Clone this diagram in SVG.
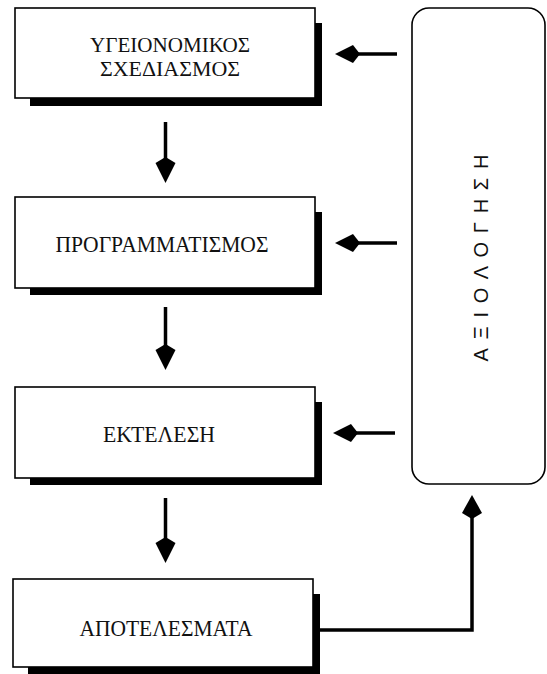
<svg xmlns="http://www.w3.org/2000/svg" width="547" height="674" viewBox="0 0 547 674">
  <defs>
    <style>
      .box { fill: #fff; stroke: #000; stroke-width: 1.6; }
      .shadow { fill: #000; }
      .lbl { font-family: "Liberation Serif", "Times New Roman", serif; font-size: 24px; fill: #111; text-anchor: middle; }
      .lbl2 { font-family: "Liberation Serif", "Times New Roman", serif; font-size: 20px; fill: #111; text-anchor: middle; }
      .vlbl { font-family: "Liberation Sans", Arial, sans-serif; font-size: 20px; fill: #111; text-anchor: middle; }
      .shaft { stroke: #000; stroke-width: 3.5; fill: none; }
      .head { fill: #000; }
    </style>
  </defs>

  <!-- process boxes -->
  <g id="planning">
    <path class="shadow" d="M315,23 H322 V106 H30 V98 H315 Z"/>
    <rect class="box" x="15" y="8" width="300" height="90"/>
    <text class="lbl2" x="170" y="52" textLength="160" lengthAdjust="spacingAndGlyphs">ΥΓΕΙΟΝΟΜΙΚΟΣ</text>
    <text class="lbl2" x="170" y="76" textLength="140" lengthAdjust="spacingAndGlyphs">ΣΧΕΔΙΑΣΜΟΣ</text>
  </g>

  <g id="programming">
    <path class="shadow" d="M315,212 H322 V295 H30 V288 H315 Z"/>
    <rect class="box" x="15" y="197" width="300" height="91"/>
    <text class="lbl" x="162" y="252" textLength="213" lengthAdjust="spacingAndGlyphs">ΠΡΟΓΡΑΜΜΑΤΙΣΜΟΣ</text>
  </g>

  <g id="execution">
    <path class="shadow" d="M315,402 H322 V485 H30 V478 H315 Z"/>
    <rect class="box" x="15" y="387" width="300" height="91"/>
    <text class="lbl" x="159" y="442" textLength="112" lengthAdjust="spacingAndGlyphs">ΕΚΤΕΛΕΣΗ</text>
  </g>

  <g id="results">
    <path class="shadow" d="M313,594 H320 V674 H28 V667 H313 Z"/>
    <rect class="box" x="13" y="579" width="300" height="88"/>
    <text class="lbl" x="166" y="636" textLength="173" lengthAdjust="spacingAndGlyphs">ΑΠΟΤΕΛΕΣΜΑΤΑ</text>
  </g>

  <!-- evaluation panel -->
  <g id="evaluation">
    <rect class="box" x="412" y="8" width="133" height="476" rx="17" ry="17" stroke-width="2"/>
    <text class="vlbl" transform="translate(487.5,258) rotate(-90)" x="0" y="0" textLength="207" lengthAdjust="spacing">ΑΞΙΟΛΟΓΗΣΗ</text>
  </g>

  <!-- connectors -->
  <g id="connectors">
    <!-- downward flow -->
    <line class="shaft" x1="165.5" y1="122" x2="165.5" y2="160"/>
    <path class="head" d="M165.5,157 L175.5,163 L165.5,183 L155.5,163 Z"/>
    <line class="shaft" x1="165.5" y1="307" x2="165.5" y2="346"/>
    <path class="head" d="M165.5,344 L175.5,350 L165.5,370 L155.5,350 Z"/>
    <line class="shaft" x1="165.5" y1="498" x2="165.5" y2="538"/>
    <path class="head" d="M165.5,537 L175.5,543 L165.5,563 L155.5,543 Z"/>

    <!-- feedback from evaluation -->
    <line class="shaft" x1="357" y1="54" x2="397" y2="54"/>
    <path class="head" d="M335,54 L353,45 L360,54 L353,63 Z"/>
    <line class="shaft" x1="357" y1="243" x2="397" y2="243"/>
    <path class="head" d="M335,243 L353,234 L360,243 L353,252 Z"/>
    <line class="shaft" x1="355" y1="433" x2="395" y2="433"/>
    <path class="head" d="M333,433 L351,424 L358,433 L351,442 Z"/>

    <!-- results to evaluation -->
    <path class="shaft" d="M320,630 H472 V516"/>
    <path class="head" d="M472,495 L482,513 L472,519 L462,513 Z"/>
  </g>
</svg>
